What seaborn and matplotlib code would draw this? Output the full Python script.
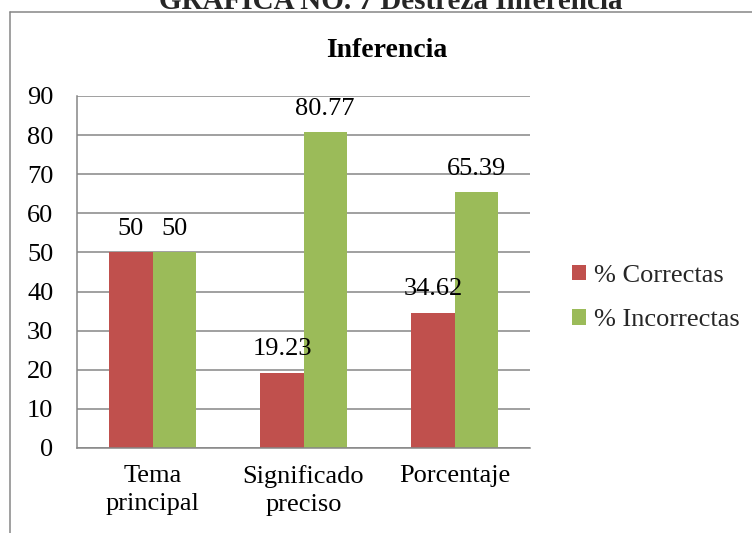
import matplotlib
matplotlib.use("Agg")
import matplotlib.pyplot as plt
from matplotlib.lines import Line2D
from matplotlib.patches import Patch
import seaborn as sns
import pandas as pd

categories = ["Tema\nprincipal", "Significado\npreciso", "Porcentaje"]
series_names = ["% Correctas", "% Incorrectas"]
correctas = [50, 19.23, 34.62]
incorrectas = [50, 80.77, 65.39]
labels_correctas = ["50", "19.23", "34.62"]
labels_incorrectas = ["50", "80.77", "65.39"]
yticks = [0, 10, 20, 30, 40, 50, 60, 70, 80, 90]
colors = ["#C0504D", "#9BBB59"]

df = pd.DataFrame({
    "cat": categories * 2,
    "serie": [series_names[0]] * 3 + [series_names[1]] * 3,
    "valor": correctas + incorrectas,
})

sns.set_theme(style="white")
plt.rcParams["font.family"] = ["Liberation Serif", "DejaVu Serif"]

W, H = 752, 533
fig = plt.figure(figsize=(W / 100, H / 100), dpi=100)
ax = fig.add_axes([77 / W, 1 - 448 / H, (530 - 77) / W, (448 - 96) / H])

sns.barplot(data=df, x="cat", y="valor", hue="serie", palette=colors,
            width=0.57, order=categories, hue_order=series_names,
            ax=ax, legend=False, saturation=1, linewidth=0)

ax.set_ylim(0, 90)
ax.set_yticks(yticks)
ax.set_xlim(-0.5, 2.5)
ax.grid(axis="y", color="#868686", linewidth=1.1)
ax.set_axisbelow(True)
for s in ["top", "right"]:
    ax.spines[s].set_visible(False)
for s in ["left", "bottom"]:
    ax.spines[s].set_color("#868686")
    ax.spines[s].set_linewidth(1.1)
ax.tick_params(axis="y", length=0, pad=17, labelsize=19, labelcolor="black")
ax.tick_params(axis="x", length=0, pad=12, labelsize=19, labelcolor="black")
ax.set_xlabel("")
ax.set_ylabel("")
for lbl in ax.get_xticklabels():
    lbl.set_linespacing(1.35)

# data labels
for cont, labs in zip(ax.containers, [labels_correctas, labels_incorrectas]):
    for bar, lab in zip(cont, labs):
        ax.annotate(lab, (bar.get_x() + bar.get_width() / 2, bar.get_height()),
                    xytext=(0, 9), textcoords="offset points",
                    ha="center", va="bottom", fontsize=19, color="black")

fig.text(387 / W, 1 - 57 / H, "Inferencia", ha="center", va="baseline",
         fontsize=20, fontweight="bold", color="black")

handles = [Patch(facecolor=c, edgecolor="none") for c in colors]
fig.legend(handles, series_names, loc="center left",
           bbox_to_anchor=(572 / W, 1 - 298 / H), frameon=False,
           fontsize=19, handlelength=0.54, handleheight=0.54,
           handletextpad=0.3, labelspacing=0.85, borderpad=0, borderaxespad=0)

fig.text(391 / W, 1 - 9 / H, "GRAFICA NO. 7 Destreza Inferencia",
         ha="center", va="baseline", fontsize=21, fontweight="bold")

frame_y = 1 - 12 / H
fig.add_artist(Line2D([9.5 / W, 9.5 / W], [0, frame_y], color="#868686",
                      linewidth=1.1, transform=fig.transFigure))
fig.add_artist(Line2D([9.5 / W, 1], [frame_y, frame_y], color="#868686",
                      linewidth=1.1, transform=fig.transFigure))

fig.savefig("out.png", dpi=100)
